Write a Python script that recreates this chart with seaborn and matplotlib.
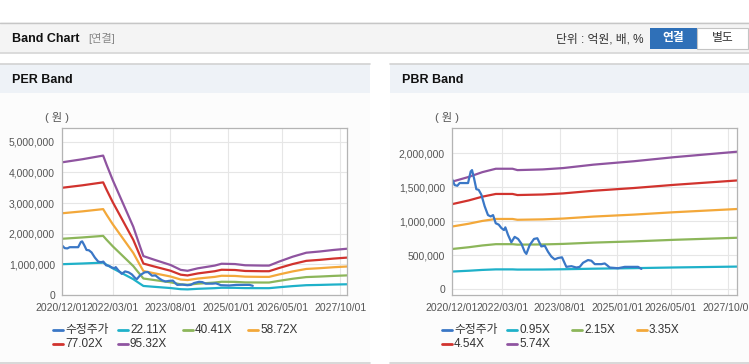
import matplotlib
matplotlib.use("Agg")
import matplotlib.pyplot as plt
import matplotlib.dates as mdates
import matplotlib.ticker as mticker
from matplotlib.lines import Line2D
from matplotlib.patches import Rectangle
import pandas as pd
import seaborn as sns

W, H = 749, 364

# ---------------------------------------------------------------------------
# Data (won)
# ---------------------------------------------------------------------------
PRICE_LABEL = "수정주가"
PRICE_DATES = [
    "2020-12-01", "2020-12-25", "2021-01-18", "2021-02-08", "2021-03-10",
    "2021-04-25", "2021-05-19", "2021-05-31", "2021-06-18", "2021-07-09",
    "2021-07-30", "2021-08-23", "2021-09-22", "2021-10-22", "2021-11-16",
    "2021-12-07", "2021-12-31", "2022-01-27", "2022-02-20", "2022-03-16",
    "2022-03-28", "2022-04-21", "2022-05-21", "2022-06-20", "2022-07-21",
    "2022-08-20", "2022-09-19", "2022-10-04", "2022-11-03", "2022-12-12",
    "2023-01-11", "2023-02-16", "2023-03-19", "2023-04-18", "2023-05-18",
    "2023-06-17", "2023-07-17", "2023-08-22", "2023-09-30", "2023-11-15",
    "2023-12-30", "2024-01-29", "2024-02-28", "2024-04-13", "2024-05-13",
    "2024-06-13", "2024-08-12", "2024-09-11", "2024-10-05", "2024-10-26",
    "2025-01-09", "2025-03-11", "2025-07-09", "2025-08-08",
]
PRICE = [
    1620000, 1530000, 1520000, 1560000, 1560000,
    1560000, 1730000, 1750000, 1630000, 1470000,
    1460000, 1390000, 1220000, 1090000, 1070000,
    1090000, 970000, 950000, 900000, 870000,
    910000, 800000, 690000, 770000, 740000,
    670000, 550000, 520000, 650000, 740000,
    750000, 630000, 640000, 550000, 480000,
    440000, 460000, 470000, 330000, 340000,
    320000, 330000, 390000, 430000, 420000,
    370000, 370000, 380000, 350000, 320000,
    310000, 330000, 330000, 300000,
]

PER_DATES = [
    "2020-12-01", "2021-06-01", "2021-12-05", "2022-01-05", "2022-03-01",
    "2022-06-01", "2022-09-01", "2022-11-01", "2022-12-01", "2023-03-01",
    "2023-08-01", "2023-11-01", "2024-01-01", "2024-04-01", "2024-09-01",
    "2024-11-01", "2025-03-01", "2025-06-01", "2025-11-01", "2026-01-01",
    "2026-04-01", "2026-08-01", "2026-12-01", "2027-04-01", "2027-08-01",
    "2027-12-01",
]
PER_LABELS = ["22.11X", "40.41X", "58.72X", "77.02X", "95.32X"]
PER_22 = [1005000, 1028000, 1056000, 986000, 870000, 694000, 517000, 367000, 295000, 269000,
          227000, 190000, 183000, 202000, 223000, 237000, 234000, 225000, 223000, 223000,
          253000, 290000, 320000, 329000, 341000, 350000]
PER_40 = [1835000, 1878000, 1929000, 1802000, 1590000, 1267000, 945000, 670000, 538000, 492000,
          415000, 348000, 335000, 369000, 407000, 432000, 428000, 411000, 407000, 407000,
          462000, 530000, 585000, 602000, 623000, 640000]
PER_58 = [2667000, 2729000, 2803000, 2618000, 2310000, 1842000, 1374000, 973000, 782000, 715000,
          604000, 505000, 487000, 536000, 591000, 628000, 622000, 598000, 591000, 591000,
          671000, 770000, 850000, 875000, 906000, 930000]
PER_77 = [3499000, 3579000, 3676000, 3434000, 3030000, 2416000, 1802000, 1277000, 1026000, 937000,
          792000, 663000, 638000, 703000, 776000, 824000, 816000, 784000, 776000, 776000,
          881000, 1010000, 1115000, 1147000, 1188000, 1220000]
PER_95 = [4330000, 4430000, 4550000, 4250000, 3750000, 2990000, 2230000, 1580000, 1270000, 1160000,
          980000, 820000, 790000, 870000, 960000, 1020000, 1010000, 970000, 960000, 960000,
          1090000, 1250000, 1380000, 1420000, 1470000, 1510000]

PBR_DATES = [
    "2020-12-01", "2021-05-01", "2021-09-01", "2022-01-01", "2022-06-01",
    "2022-07-15", "2023-03-01", "2023-09-01", "2024-06-01", "2025-06-01",
    "2026-06-01", "2027-12-20",
]
PBR_LABELS = ["0.95X", "2.15X", "3.35X", "4.54X", "5.74X"]
PBR_095 = [261000, 273000, 285000, 293000, 293000, 290000, 291000, 295000, 303000, 311000, 321000, 334000]
PBR_215 = [592000, 618000, 644000, 663000, 663000, 656000, 659000, 667000, 686000, 704000, 727000, 757000]
PBR_335 = [922000, 963000, 1004000, 1033000, 1033000, 1021000, 1027000, 1039000, 1068000, 1097000, 1132000, 1179000]
PBR_454 = [1250000, 1305000, 1360000, 1400000, 1400000, 1384000, 1392000, 1408000, 1447000, 1487000, 1534000, 1598000]
PBR_574 = [1580000, 1650000, 1720000, 1770000, 1770000, 1750000, 1760000, 1780000, 1830000, 1880000, 1940000, 2020000]

X_TICKS = ["2020-12-01", "2022-03-01", "2023-08-01", "2025-01-01", "2026-05-01", "2027-10-01"]

PRICE_COLOR = "#3a77c6"
BAND_COLORS = ["#1fb1c9", "#8cb65a", "#f3a83a", "#d1332e", "#8f54a0"]

# ---------------------------------------------------------------------------
# Style
# ---------------------------------------------------------------------------
sns.set_style("white")
plt.rcParams["font.family"] = ["Liberation Sans", "Noto Sans CJK KR", "DejaVu Sans"]

fig = plt.figure(figsize=(W / 100, H / 100), dpi=100)
fig.patch.set_facecolor("white")


def fx(x):
    return x / W


def fy(y):
    return 1 - y / H


def rect(x0, y0, x1, y1, face, edge="none", lw=0.0, z=0):
    fig.add_artist(Rectangle((fx(x0), fy(y1)), fx(x1) - fx(x0), fy(y0) - fy(y1),
                             transform=fig.transFigure, facecolor=face,
                             edgecolor=edge, linewidth=lw, zorder=z))


def hline(x0, x1, y, color, lw=1.0, z=1):
    fig.add_artist(Line2D([fx(x0), fx(x1)], [fy(y), fy(y)], transform=fig.transFigure,
                          color=color, linewidth=lw, zorder=z))


# top header
rect(0, 22, W, 53, "#f4f4f4")
hline(0, W, 22.5, "#c6c6c6", 1.0)
hline(0, W, 53, "#d6d6d6", 1.2)
fig.text(fx(12), fy(39), "Band Chart", fontsize=9, fontweight="bold", color="#111111", va="center")
fig.text(fx(88), fy(39), "[연결]", fontsize=8, color="#888888", va="center")
fig.text(fx(643), fy(39), "단위 : 억원, 배, %", fontsize=8.5, color="#333333", va="center", ha="right")
rect(650, 28, 697, 49, "#2f70b8", z=2)
fig.text(fx(673.5), fy(38.5), "연결", fontsize=8.5, fontweight="bold", color="white",
         va="center", ha="center", zorder=3)
rect(697, 28, 748, 49, "white", edge="#c4c4c4", lw=0.8, z=2)
fig.text(fx(722.5), fy(38.5), "별도", fontsize=8.5, color="#333333", va="center", ha="center", zorder=3)

# panels
for (px0, px1, title) in [(0, 370, "PER Band"), (390, W + 5, "PBR Band")]:
    rect(px0, 64, px1, 362, "#fcfcfc")
    rect(px0, 64, px1, 93, "#eef2f7")
    hline(px0, px1, 64, "#d2d2d2", 1.2)
    hline(px0, px1, 362.5, "#d2d2d2", 1.2)
    fig.text(fx(px0 + 12), fy(80), title, fontsize=9, fontweight="bold", color="#111111", va="center")


def draw_panel(ax_box, band_dates, band_series, band_labels, ylim, yticks, xlim,
               unit_x, legend_x0):
    x0, x1, y0, y1 = ax_box
    ax = fig.add_axes([fx(x0), fy(y1), fx(x1) - fx(x0), fy(y0) - fy(y1)])
    ax.set_facecolor("white")

    bands = pd.DataFrame({
        "date": pd.to_datetime(band_dates * len(band_labels)),
        "value": [v for s in band_series for v in s],
        "series": [lab for lab, s in zip(band_labels, band_series) for _ in s],
    })
    sns.lineplot(data=bands, x="date", y="value", hue="series", hue_order=band_labels,
                 palette=BAND_COLORS, estimator=None, linewidth=1.6, legend=False, ax=ax)
    price = pd.DataFrame({"date": pd.to_datetime(PRICE_DATES), "value": PRICE})
    sns.lineplot(data=price, x="date", y="value", color=PRICE_COLOR, estimator=None,
                 linewidth=1.6, ax=ax)

    ax.set_xlim(pd.Timestamp(xlim[0]), pd.Timestamp(xlim[1]))
    ax.set_ylim(*ylim)
    ax.set_yticks(yticks)
    ax.yaxis.set_major_formatter(mticker.FuncFormatter(lambda v, _: f"{v:,.0f}"))
    ax.set_xticks(pd.to_datetime(X_TICKS))
    ax.xaxis.set_major_formatter(mdates.DateFormatter("%Y/%m/%d"))
    ax.set_xlabel("")
    ax.set_ylabel("")
    ax.grid(True, color="#e6e6e6", linewidth=0.8)
    ax.set_axisbelow(True)
    for sp in ax.spines.values():
        sp.set_color("#b4b4b4")
        sp.set_linewidth(0.9)
    ax.tick_params(axis="both", labelsize=7.5, colors="#555555", length=3, width=0.8,
                   color="#999999", pad=2)
    ax.tick_params(axis="x", pad=3)

    fig.text(fx(unit_x), fy(118), "( 원 )", fontsize=8, color="#555555", ha="center", va="center")

    labels = [PRICE_LABEL] + band_labels
    colors = [PRICE_COLOR] + BAND_COLORS
    for i, (lab, col) in enumerate(zip(labels, colors)):
        lx = legend_x0 + 65 * (i % 4)
        ly = 330 + 14 * (i // 4)
        fig.add_artist(Line2D([fx(lx), fx(lx + 10)], [fy(ly), fy(ly)],
                              transform=fig.transFigure, color=col, linewidth=2))
        fig.text(fx(lx + 12), fy(ly), lab, fontsize=8.5, color="#333333", va="center")
    return ax


draw_panel((62, 347, 128, 295), PER_DATES,
           [PER_22, PER_40, PER_58, PER_77, PER_95], PER_LABELS,
           (0, 5450000), [0, 1000000, 2000000, 3000000, 4000000, 5000000],
           ("2020-12-01", "2027-12-01"), 57, 53)

draw_panel((452, 737, 128, 295), PBR_DATES,
           [PBR_095, PBR_215, PBR_335, PBR_454, PBR_574], PBR_LABELS,
           (-83000, 2368000), [0, 500000, 1000000, 1500000, 2000000],
           ("2020-12-01", "2027-12-20"), 447, 442)

fig.savefig("out.png", dpi=100)
